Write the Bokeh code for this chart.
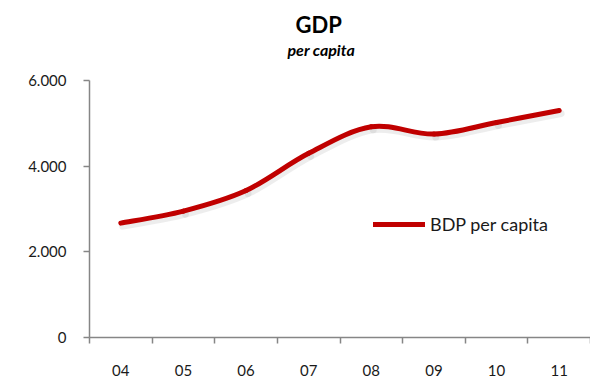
from bokeh.plotting import figure
from bokeh.models import FixedTicker, Title, Legend, LegendItem, ColumnDataSource, Range1d
from bokeh.embed import file_html
from bokeh.resources import INLINE

# ---- data ----
years = ["04", "05", "06", "07", "08", "09", "10", "11"]
gdp = [2670, 2950, 3430, 4300, 4920, 4750, 5020, 5300]
y_ticks = [0, 2000, 4000, 6000]
y_tick_labels = ["0", "2.000", "4.000", "6.000"]
title_text = "GDP"
subtitle_text = "per capita"
series_name = "BDP per capita"

FONT = "Lato"
RED = "#C00000"

n = len(years)
xs = [i + 0.5 for i in range(n)]

# Smooth curve (Catmull-Rom style, like a spreadsheet "smoothed line") as bezier segments
x0, y0, x1, y1, cx0, cy0, cx1, cy1 = [], [], [], [], [], [], [], []
for i in range(n - 1):
    p0x, p0y = (xs[i - 1], gdp[i - 1]) if i > 0 else (xs[i], gdp[i])
    p1x, p1y = xs[i], gdp[i]
    p2x, p2y = xs[i + 1], gdp[i + 1]
    p3x, p3y = (xs[i + 2], gdp[i + 2]) if i + 2 < n else (xs[i + 1], gdp[i + 1])
    x0.append(p1x); y0.append(p1y); x1.append(p2x); y1.append(p2y)
    cx0.append(p1x + (p2x - p0x) / 6); cy0.append(p1y + (p2y - p0y) / 6)
    cx1.append(p2x - (p3x - p1x) / 6); cy1.append(p2y - (p3y - p1y) / 6)

src = ColumnDataSource(dict(x0=x0, y0=y0, x1=x1, y1=y1, cx0=cx0, cy0=cy0, cx1=cx1, cy1=cy1))
sdx, sdy = 0.03, 70
shadow = ColumnDataSource(dict(x0=[v + sdx for v in x0], y0=[v - sdy for v in y0],
                               x1=[v + sdx for v in x1], y1=[v - sdy for v in y1],
                               cx0=[v + sdx for v in cx0], cy0=[v - sdy for v in cy0],
                               cx1=[v + sdx for v in cx1], cy1=[v - sdy for v in cy1]))

p = figure(width=590, height=378, output_backend="svg", toolbar_location=None,
           x_range=Range1d(0, n), y_range=Range1d(0, 6000),
           min_border_left=89, min_border_right=0, min_border_top=80, min_border_bottom=41)
p.outline_line_color = None
p.xgrid.visible = False
p.ygrid.visible = False
p.background_fill_color = "white"
p.border_fill_color = "white"

p.bezier(x0="x0", y0="y0", x1="x1", y1="y1", cx0="cx0", cy0="cy0", cx1="cx1", cy1="cy1",
         source=shadow, line_color="#999999", line_width=7, line_alpha=0.18, line_cap="round")
r = p.bezier(x0="x0", y0="y0", x1="x1", y1="y1", cx0="cx0", cy0="cy0", cx1="cx1", cy1="cy1",
             source=src, line_color=RED, line_width=5, line_cap="round")

AX = "#868686"
# y axis
ya = p.yaxis[0]
ya.ticker = FixedTicker(ticks=y_ticks)
ya.major_label_overrides = {t: l for t, l in zip(y_ticks, y_tick_labels)}
ya.axis_line_color = AX
ya.axis_line_width = 1.5
ya.major_tick_line_color = AX
ya.major_tick_line_width = 1.5
ya.major_tick_out = 6
ya.major_tick_in = 0
ya.minor_tick_line_color = None
ya.major_label_standoff = 17
ya.major_label_text_font = FONT
ya.major_label_text_font_size = "15px"
ya.major_label_text_color = "#1a1a1a"

# x axis
xa = p.xaxis[0]
xa.ticker = FixedTicker(ticks=xs, minor_ticks=list(range(n + 1)))
xa.major_label_overrides = {x: yr for x, yr in zip(xs, years)}
xa.axis_line_color = AX
xa.axis_line_width = 1.5
xa.major_tick_line_color = None
xa.major_tick_out = 0
xa.major_tick_in = 0
xa.minor_tick_line_color = AX
xa.minor_tick_line_width = 1.5
xa.minor_tick_out = 6
xa.minor_tick_in = 0
xa.major_label_standoff = 21
xa.major_label_text_font = FONT
xa.major_label_text_font_size = "15px"
xa.major_label_text_color = "#1a1a1a"

# titles (first added sits nearest the frame): spacer, subtitle, title
p.add_layout(Title(text=" ", text_font_size="1px", standoff=19), "above")
p.add_layout(Title(text=subtitle_text, align="left", offset=198, standoff=0,
                   text_font=FONT, text_font_style="bold italic", text_font_size="16px",
                   text_color="black"), "above")
p.add_layout(Title(text=title_text, align="left", offset=206, standoff=0,
                   text_font=FONT, text_font_style="bold", text_font_size="22px",
                   text_color="black"), "above")

legend = Legend(items=[LegendItem(label=series_name, renderers=[r])],
                location=(373 - 89, 337 - 235), glyph_width=52, glyph_height=20,
                label_standoff=5, padding=0, margin=0, spacing=0,
                border_line_color=None, background_fill_alpha=0,
                label_text_font=FONT, label_text_font_size="18px", label_text_color="#1a1a1a")
p.add_layout(legend)

open("out.html", "w").write(file_html(p, INLINE))
